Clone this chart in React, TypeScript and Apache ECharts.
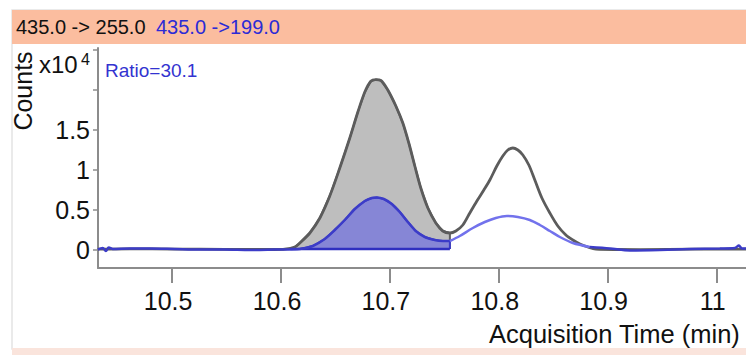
import React, { useEffect, useRef } from "react";
import * as echarts from "echarts";

// ---- data ----
const xTicks = [10.5, 10.6, 10.7, 10.8, 10.9, 11];
const yTicks = [0, 0.5, 1, 1.5, 2, 2.5];
const yLabels = [0, 0.5, 1, 1.5];

// quantifier trace 435.0 -> 255.0 (x10^4 counts)
const grayTime = [
  10.4319, 10.4612, 10.5025, 10.5485, 10.5944, 10.6035, 10.6127, 10.6173, 10.6265, 10.6357,
  10.6448, 10.654, 10.6632, 10.6706, 10.677, 10.6825, 10.6871, 10.6917, 10.6981, 10.7055,
  10.7119, 10.7174, 10.7229, 10.7284, 10.7349, 10.7422, 10.7486, 10.7551, 10.7606, 10.767,
  10.7734, 10.7799, 10.7863, 10.7918, 10.7982, 10.8037, 10.8083, 10.8129, 10.8175, 10.8221,
  10.8276, 10.8331, 10.8396, 10.8469, 10.8542, 10.8616, 10.868, 10.8745, 10.8818, 10.8891,
  10.93, 10.98, 11.027,
];
const grayCounts = [
  0.01, 0.015, 0.012, 0.008, 0.006, 0.01, 0.0375, 0.0875, 0.2125, 0.4,
  0.675, 1.025, 1.4, 1.725, 1.975, 2.11, 2.13, 2.12, 2.0, 1.8,
  1.5875, 1.3375, 1.05, 0.775, 0.525, 0.3375, 0.2375, 0.2125, 0.2375, 0.3125,
  0.4625, 0.6125, 0.75, 0.875, 1.05, 1.175, 1.25, 1.275, 1.25, 1.1875,
  1.0625, 0.875, 0.65, 0.4625, 0.3, 0.1875, 0.125, 0.075, 0.0375, 0.0125,
  0.005, 0.01, 0.01,
];

// qualifier trace 435.0 -> 199.0
const blueTime = [
  10.4319, 10.4364, 10.4392, 10.4419, 10.4456, 10.4612, 10.4796, 10.5025, 10.5255, 10.5485,
  10.5714, 10.5944, 10.6173, 10.6292, 10.6402, 10.6494, 10.6586, 10.6678, 10.677, 10.6834,
  10.688, 10.6944, 10.7018, 10.7091, 10.7165, 10.7238, 10.7321, 10.7413, 10.7486, 10.7551,
  10.7642, 10.7762, 10.7872, 10.7973, 10.8074, 10.8175, 10.8285, 10.8377, 10.8469, 10.8561,
  10.868, 10.8836, 10.902, 10.9204, 10.9479, 10.9755, 11.003, 11.0168, 11.0205, 11.0232,
  11.027,
];
const blueCounts = [
  0.006, 0.025, -0.0125, 0.031, 0.0125, 0.019, 0.019, 0.0125, 0.006, 0.006,
  0.0, 0.006, 0.0125, 0.05, 0.1375, 0.25, 0.375, 0.5125, 0.6125, 0.65,
  0.656, 0.6375, 0.575, 0.475, 0.35, 0.2375, 0.1625, 0.125, 0.1125, 0.1125,
  0.175, 0.275, 0.35, 0.4, 0.425, 0.4125, 0.375, 0.3125, 0.2375, 0.1625,
  0.0875, 0.0375, 0.019, -0.006, 0.0, 0.0125, 0.019, 0.025, 0.056, 0.019,
  0.019,
];

const intStart = 10.6127; // integration window start
const intEnd = 10.7551; // integration window end
const intBase = 0.0125; // integration baseline
const peak2End = 10.8836;

const FONT = "'Liberation Sans', Arial, Helvetica, sans-serif";

function pairs(t: number[], v: number[]) {
  return t.map((x, i) => [x, v[i]]);
}

export default function App() {
  const ref = useRef<HTMLDivElement>(null);
  useEffect(() => {
    if (!ref.current) return;
    const chart = echarts.init(ref.current, undefined, { renderer: "svg" });
    const gray = pairs(grayTime, grayCounts);
    const blue = pairs(blueTime, blueCounts);
    const grayFill = gray
      .filter((p) => p[0] >= intStart && p[0] <= intEnd)
      .concat([[intEnd, intBase]]);
    const blueFill = blue
      .filter((p) => p[0] >= intStart && p[0] <= intEnd)
      .concat([[intEnd, intBase]]);
    const blueA = blue.filter((p) => p[0] <= intEnd);
    const blueB = blue.filter((p) => p[0] >= intEnd && p[0] <= peak2End);
    const blueC = blue.filter((p) => p[0] >= peak2End);

    const axisColor = "#8c8c8c";
    const option: any = {
      animation: false,
      backgroundColor: "#ffffff",
      grid: { left: 98, right: 0, top: 48, bottom: 87, containLabel: false },
      xAxis: {
        type: "value",
        min: 10.432,
        max: 11.027,
        axisLine: { show: true, onZero: false, lineStyle: { color: axisColor, width: 2 } },
        axisTick: {
          show: true,
          length: 15,
          inside: false,
          customValues: xTicks,
          lineStyle: { color: axisColor, width: 2 },
        },
        axisLabel: {
          customValues: xTicks,
          fontSize: 25,
          fontFamily: FONT,
          color: "#111",
          margin: 20,
          padding: [0, 8, 0, 0],
        },
        splitLine: { show: false },
      },
      yAxis: {
        type: "value",
        min: -0.225,
        max: 2.525,
        axisLine: { show: true, onZero: false, lineStyle: { color: axisColor, width: 2 } },
        axisTick: {
          show: true,
          length: 5,
          customValues: yTicks,
          lineStyle: { color: axisColor, width: 1.5 },
        },
        axisLabel: {
          customValues: yLabels,
          fontSize: 25,
          fontFamily: FONT,
          color: "#111",
          margin: 8,
        },
        splitLine: { show: false },
      },
      series: [
        {
          type: "line",
          data: grayFill,
          showSymbol: false,
          smooth: false,
          lineStyle: { color: "#606060", width: 2 },
          areaStyle: { color: "#bebebe", opacity: 1, origin: intBase },
          z: 1,
        },
        {
          type: "line",
          data: blueFill,
          showSymbol: false,
          smooth: false,
          lineStyle: { color: "#3c3cc8", width: 2 },
          areaStyle: { color: "#8686d6", opacity: 1, origin: intBase },
          z: 2,
        },
        {
          type: "line",
          data: gray,
          showSymbol: false,
          smooth: 0.3,
          lineStyle: { color: "#5c5c5c", width: 2.8 },
          z: 3,
        },
        {
          type: "line",
          data: [
            [intStart - 0.004, intBase],
            [intEnd, intBase],
          ],
          showSymbol: false,
          lineStyle: { color: "#3030c0", width: 2.5 },
          z: 4,
        },
        {
          type: "line",
          data: blueA,
          showSymbol: false,
          smooth: 0.3,
          lineStyle: { color: "#3c3cc8", width: 2.5 },
          z: 5,
        },
        {
          type: "line",
          data: blueB,
          showSymbol: false,
          smooth: 0.3,
          lineStyle: { color: "#7272ec", width: 2.5 },
          z: 5,
        },
        {
          type: "line",
          data: blueC,
          showSymbol: false,
          smooth: 0.3,
          lineStyle: { color: "#3c3cc8", width: 2.5 },
          z: 5,
        },
      ],
      graphic: [
        {
          type: "rect",
          shape: { x: 12, y: 10, width: 745, height: 339 },
          style: { fill: "none", stroke: "#e4e4e4", lineWidth: 1.5 },
          silent: true,
          z: -10,
        },
        {
          type: "rect",
          shape: { x: 12, y: 348, width: 740, height: 8 },
          style: { fill: "#fae4dc" },
          silent: true,
        },
        {
          type: "rect",
          shape: { x: 12, y: 10, width: 740, height: 34 },
          style: { fill: "#fbbd9f" },
          silent: true,
        },
        {
          type: "text",
          x: 16,
          y: 27,
          style: { text: "435.0 -> 255.0", fill: "#111", font: `20px ${FONT}`, verticalAlign: "middle" },
        },
        {
          type: "text",
          x: 156,
          y: 27,
          style: { text: "435.0 ->199.0", fill: "#2b2bd6", font: `20px ${FONT}`, verticalAlign: "middle" },
        },
        {
          type: "text",
          x: 23,
          y: 91,
          rotation: Math.PI / 2,
          style: {
            text: "Counts",
            fill: "#111",
            font: `25px ${FONT}`,
            align: "center",
            verticalAlign: "middle",
          },
        },
        {
          type: "text",
          x: 39,
          y: 64,
          style: { text: "x10", fill: "#111", font: `24px ${FONT}`, verticalAlign: "middle" },
        },
        {
          type: "text",
          x: 81,
          y: 59,
          style: { text: "4", fill: "#111", font: `16px ${FONT}`, verticalAlign: "middle" },
        },
        {
          type: "text",
          x: 105,
          y: 70,
          style: { text: "Ratio=30.1", fill: "#3333d0", font: `19px ${FONT}`, verticalAlign: "middle" },
        },
        {
          type: "text",
          x: 489,
          y: 334,
          style: {
            text: "Acquisition Time (min)",
            fill: "#111",
            font: `25.5px ${FONT}`,
            verticalAlign: "middle",
          },
        },
      ],
    };
    chart.setOption(option);
    return () => chart.dispose();
  }, []);
  return (
    <div
      ref={ref}
      style={{ position: "fixed", left: 0, top: 0, width: 746, height: 355, background: "#fff" }}
    />
  );
}
